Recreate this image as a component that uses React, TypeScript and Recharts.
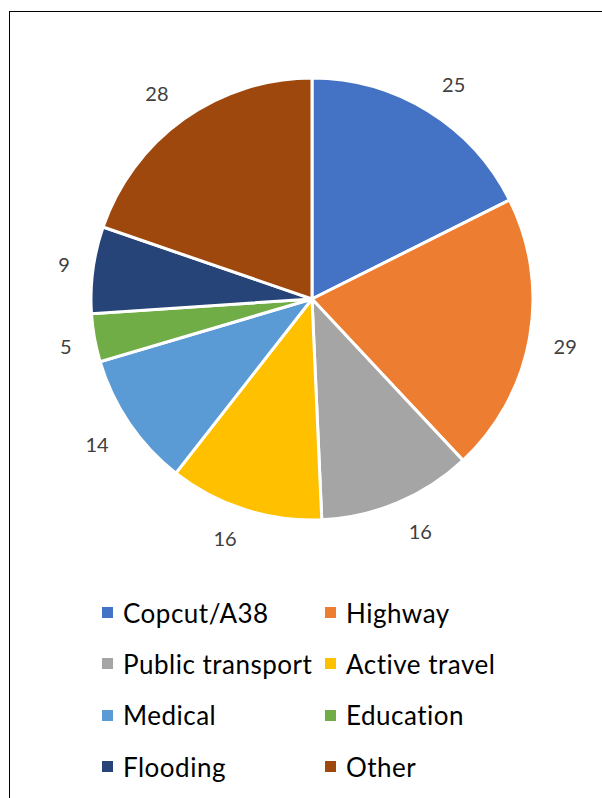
import { PieChart, Pie, Cell, Legend } from 'recharts';

const CATEGORIES = [
  'Copcut/A38',
  'Highway',
  'Public transport',
  'Active travel',
  'Medical',
  'Education',
  'Flooding',
  'Other',
];
const VALUES = [25, 29, 16, 16, 14, 5, 9, 28];
const COLORS = ['#4472C4', '#ED7D31', '#A5A5A5', '#FFC000', '#5B9BD5', '#70AD47', '#264478', '#9E480E'];

const data = CATEGORIES.map((name, i) => ({ name, value: VALUES[i] }));

const FONT = 'Lato, "Open Sans", sans-serif';
const RADIAN = Math.PI / 180;

const clamp = (v: number) => Math.max(-1, Math.min(1, v));

// outside-end labels: text box pushed off the rim like Excel does
function renderLabel(props: any) {
  const { cx, cy, midAngle, outerRadius, value } = props;
  const r = outerRadius + 22;
  const ux = Math.cos(-midAngle * RADIAN);
  const uy = Math.sin(-midAngle * RADIAN);
  const halfW = String(value).length * 7;
  const halfH = 8;
  const x = cx + r * ux + halfW * clamp(ux * 3);
  const y = cy + r * uy + halfH * clamp(uy * 3);
  return (
    <text x={x} y={y} fill="#404040" fontSize={20} fontFamily={FONT} textAnchor="middle" dominantBaseline="central">
      {value}
    </text>
  );
}

function renderLegend() {
  return (
    <div
      style={{
        display: 'grid',
        gridTemplateColumns: '223px 240px',
        gridAutoRows: '51.3px',
        paddingLeft: 102,
        fontFamily: FONT,
        fontSize: 26,
        letterSpacing: 0.5,
        color: '#000',
      }}
    >
      {CATEGORIES.map((name, i) => (
        <div key={name} style={{ display: 'flex', alignItems: 'center', whiteSpace: 'nowrap' }}>
          <span style={{ width: 11, height: 11, background: COLORS[i], marginRight: 10, flexShrink: 0 }} />
          <span>{name}</span>
        </div>
      ))}
    </div>
  );
}

export default function App() {
  return (
    <div style={{ position: 'absolute', left: 0, top: 0, width: 602, height: 798, overflow: 'hidden', background: '#fff' }}>
      <div
        style={{
          position: 'absolute',
          left: 9,
          top: 11,
          width: 640,
          height: 840,
          border: '1.5px solid #000',
        }}
      />
      <PieChart
        width={602}
        height={798}
        margin={{ top: 0, right: 0, bottom: 0, left: 0 }}
        style={{ position: 'absolute', left: 0, top: 0 }}
      >
        <Pie
          data={data}
          dataKey="value"
          nameKey="name"
          cx={312}
          cy={299}
          outerRadius={221}
          startAngle={90}
          endAngle={-270}
          stroke="#fff"
          strokeWidth={3}
          label={renderLabel}
          labelLine={false}
          isAnimationActive={false}
        >
          {data.map((entry, i) => (
            <Cell key={entry.name} fill={COLORS[i]} />
          ))}
        </Pie>
        <Legend
          content={renderLegend}
          wrapperStyle={{ position: 'absolute', left: 0, top: 587, width: 602 }}
        />
      </PieChart>
    </div>
  );
}
